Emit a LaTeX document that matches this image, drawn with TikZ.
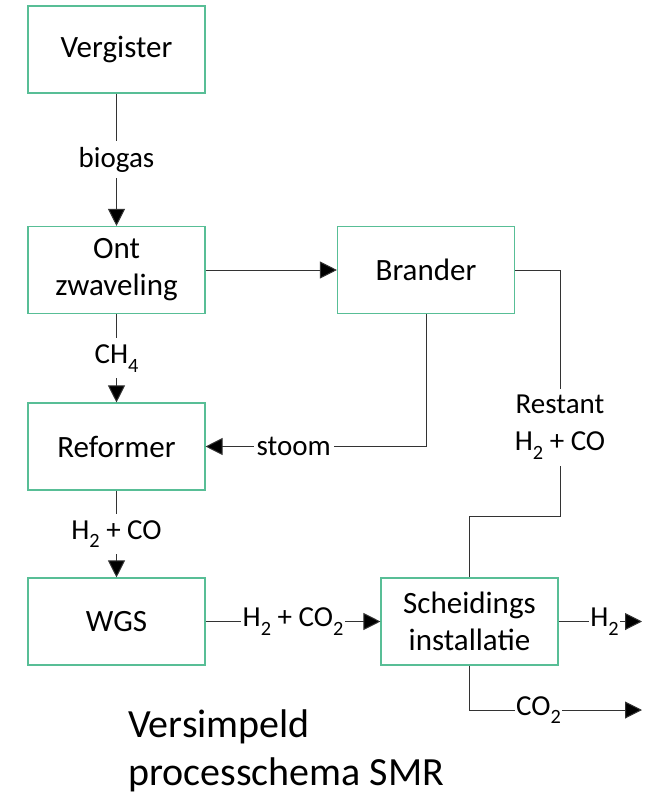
\documentclass[tikz,border=0pt]{standalone}
\usepackage{fontspec}
\setmainfont{Carlito}
\usepackage{tikz}
\usepackage{graphicx}
\usetikzlibrary{
    arrows.meta,
    calc,
    positioning
}
\definecolor{boxgreen}{RGB}{88,190,150}
\newcommand{\subidx}[1]{\raisebox{-0.3em}{\scalebox{0.7}{#1}}}

\begin{document}
\begin{tikzpicture}[x=1pt, y=-1pt,
    unit/.style={draw=boxgreen, line width=1.1pt, minimum width=177pt, minimum height=87pt,
        align=center, font=\fontsize{31}{37}\selectfont},
    flow/.style={draw=black!80, line width=1pt, -{Triangle[length=17pt,width=17pt,fill=black]}},
    pipe/.style={draw=black!80, line width=1pt},
    lbl/.style={fill=white, inner sep=6pt, font=\fontsize{29}{37}\selectfont, align=center}]
                        \useasboundingbox (0, 0) rectangle (646, 797);
                        % units
                        \node[unit] (vergister) at (116.5, 49.5) {Vergister};
                        \node[unit] (ont) at (116.5, 270) {Ont\\zwaveling};
                        \node[unit] (brander) at (426, 270) {Brander};
                        \node[unit] (reformer) at (116.5, 446.5) {Reformer};
                        \node[unit] (wgs) at (116.5, 621.5) {WGS};
                        \node[unit] (scheiding) at (469.5, 621.5) {Scheidings\\installatie};
                        \coordinate (bend) at (560, 516);
                        \coordinate (h2out) at (642, 621.5);
                        \coordinate (co2out) at (642, 710);
                        % streams
                        \draw[flow] (vergister) -- node[lbl] {biogas} (ont);
                        \draw[flow] (ont) -- (brander);
                        \draw[flow] (ont) -- node[lbl] {CH\subidx{4}} (reformer);
                        \draw[flow] (brander.south) |- node[lbl, pos=0.8, inner sep=3pt] {stoom} (reformer.east);
                        \draw[flow] (reformer) -- node[lbl] {H\subidx{2} + CO} (wgs);
                        \draw[flow] (wgs) -- node[lbl, inner sep=2pt] {H\subidx{2} + CO\subidx{2}} (scheiding);
                        \draw[pipe] (brander.east) -| node[lbl, pos=0.82] {Restant\\H\subidx{2} + CO} (bend)
                            -| (scheiding.north);
                        \draw[flow] (scheiding.east) -- node[lbl, pos=0.55, inner sep=1pt] {H\subidx{2}} (h2out);
                        \draw[flow] (scheiding.south) |- node[lbl, pos=0.7, inner sep=1pt] {CO\subidx{2}} (co2out);
                        % title
                        \node[anchor=west, inner sep=0pt, align=left, font=\fontsize{40}{48}\selectfont]
                            (title) at (128, 751) {Versimpeld\\processchema SMR};
                    \end{tikzpicture}
\end{document}
